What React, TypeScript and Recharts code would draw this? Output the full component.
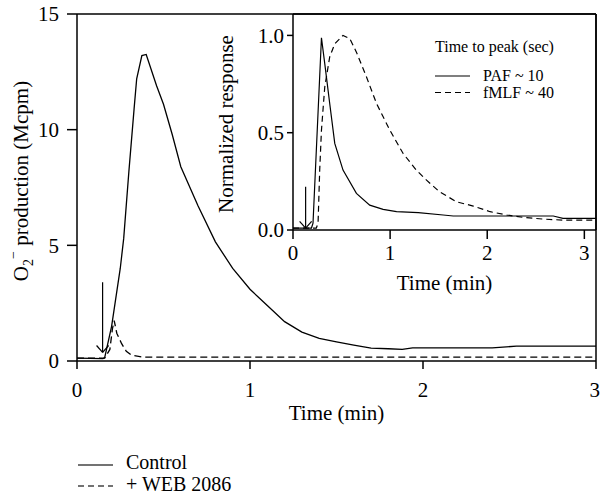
import { LineChart, Line, XAxis, YAxis, ReferenceLine } from "recharts";

const FONT = "'Liberation Serif', 'DejaVu Serif', 'Times New Roman', Times, serif";

// main panel: O2- production (Mcpm) vs time (min)
const controlTime = [0, 0.15, 0.16, 0.2, 0.25, 0.27, 0.3, 0.33, 0.345, 0.375, 0.4, 0.46, 0.5, 0.55, 0.6, 0.7, 0.8, 0.9, 1.0, 1.1, 1.2, 1.3, 1.4, 1.5, 1.6, 1.7, 1.8, 1.88, 1.94, 2.4, 2.54, 3.0];
const controlO2 = [0.12, 0.1, 0.15, 1.5, 4.0, 5.3, 8.2, 10.9, 12.2, 13.2, 13.25, 11.9, 11.1, 9.8, 8.4, 6.7, 5.15, 4.0, 3.1, 2.4, 1.7, 1.25, 0.98, 0.83, 0.69, 0.56, 0.53, 0.5, 0.57, 0.57, 0.64, 0.64];
const webTime = [0, 0.16, 0.19, 0.205, 0.215, 0.23, 0.258, 0.285, 0.315, 0.38, 3.0];
const webO2 = [0.12, 0.12, 0.5, 1.4, 1.75, 1.2, 0.75, 0.42, 0.25, 0.17, 0.17];
const mainXTicks = [0, 1, 2, 3];
const mainYTicks = [0, 5, 10, 15];

// inset: normalized response vs time (min)
const pafTime = [0, 0.19, 0.206, 0.293, 0.327, 0.378, 0.43, 0.515, 0.653, 0.79, 0.928, 1.066, 1.29, 1.546, 1.65, 2.68, 2.78, 3.12];
const pafResp = [0.01, 0.01, 0.035, 0.988, 0.855, 0.65, 0.445, 0.308, 0.188, 0.128, 0.106, 0.094, 0.089, 0.077, 0.072, 0.072, 0.06, 0.06];
const fmlfTime = [0, 0.24, 0.258, 0.275, 0.293, 0.327, 0.378, 0.43, 0.515, 0.585, 0.653, 0.757, 0.86, 0.997, 1.134, 1.27, 1.375, 1.51, 1.684, 1.856, 2.03, 2.2, 2.37, 2.577, 2.78, 3.12];
const fmlfResp = [0.01, 0.01, 0.034, 0.308, 0.513, 0.735, 0.889, 0.957, 1.0, 0.983, 0.914, 0.786, 0.65, 0.513, 0.393, 0.308, 0.256, 0.196, 0.145, 0.123, 0.094, 0.077, 0.065, 0.056, 0.051, 0.051];
const insetXTicks = [0, 1, 2, 3];
const insetYTicks = [0, 0.5, 1];

const toPoints = (t: number[], v: number[]) => t.map((x, i) => ({ t: x, v: v[i] }));

// stimulus arrow: vertical shaft plus two head strokes
const arrow = (x: number, top: number, tip: number, dx: number, dy: number) => [
  [{ x, y: top }, { x, y: tip }],
  [{ x: x - dx, y: tip + dy }, { x, y: tip }],
  [{ x: x + dx, y: tip + dy }, { x, y: tip }],
];

const axisStroke = { stroke: "#000", strokeWidth: 1.5 };
const tickText = { fill: "#000", fontSize: 21, style: { fontFamily: FONT } };
const labelStyle = { fill: "#000", fontSize: 21, style: { fontFamily: FONT } };

export default function App() {
  const control = toPoints(controlTime, controlO2);
  const web = toPoints(webTime, webO2);
  const paf = toPoints(pafTime, pafResp);
  const fmlf = toPoints(fmlfTime, fmlfResp);

  return (
    <div style={{ position: "absolute", left: 0, top: 0, width: 600, height: 494, background: "#fff", fontFamily: FONT }}>
      <div style={{ position: "absolute", left: 0, top: 0 }}>
        <LineChart width={600} height={440} margin={{ top: 14, right: 4, left: 0, bottom: 19 }}>
          <XAxis
            dataKey="t"
            type="number"
            domain={[0, 3]}
            ticks={mainXTicks}
            height={60}
            tickSize={8}
            tickMargin={13}
            axisLine={axisStroke}
            tickLine={axisStroke}
            tick={tickText}
            label={{ value: "Time (min)", position: "insideBottom", offset: 1, ...labelStyle }}
          />
          <YAxis
            dataKey="v"
            type="number"
            domain={[0, 15]}
            ticks={mainYTicks}
            width={77}
            tickSize={10}
            tickMargin={8}
            axisLine={axisStroke}
            tickLine={axisStroke}
            tick={tickText}
          />
          <ReferenceLine y={15} stroke="#000" strokeWidth={1.5} />
          <ReferenceLine x={3} stroke="#000" strokeWidth={1.5} />
          <Line data={control} dataKey="v" type="linear" stroke="#000" strokeWidth={1.3} dot={false} isAnimationActive={false} />
          <Line data={web} dataKey="v" type="linear" stroke="#000" strokeWidth={1.3} strokeDasharray="7 4" dot={false} isAnimationActive={false} />
          {arrow(0.148, 3.4, 0.37, 0.035, 0.3).map((s, i) => (
            <ReferenceLine key={`ma${i}`} segment={s} stroke="#000" strokeWidth={1.2} />
          ))}
        </LineChart>
      </div>

      <div style={{ position: "absolute", left: 200, top: 0 }}>
        <LineChart width={400} height={300} margin={{ top: 14, right: 4, left: 0, bottom: 10 }}>
          <XAxis
            dataKey="t"
            type="number"
            domain={[0, 3.12]}
            ticks={insetXTicks}
            height={60}
            tickSize={9}
            tickMargin={6}
            axisLine={axisStroke}
            tickLine={axisStroke}
            tick={tickText}
            label={{ value: "Time (min)", position: "insideBottom", offset: 0, ...labelStyle }}
          />
          <YAxis
            dataKey="v"
            type="number"
            domain={[0, 1.11]}
            ticks={insetYTicks}
            width={93}
            tickSize={6}
            tickMargin={3}
            tickFormatter={(v: number) => v.toFixed(1)}
            axisLine={axisStroke}
            tickLine={axisStroke}
            tick={tickText}
          />
          <ReferenceLine y={1.11} stroke="#000" strokeWidth={1.5} />
          <ReferenceLine x={3.12} stroke="#000" strokeWidth={1.5} />
          <Line data={paf} dataKey="v" type="linear" stroke="#000" strokeWidth={1.2} dot={false} isAnimationActive={false} />
          <Line data={fmlf} dataKey="v" type="linear" stroke="#000" strokeWidth={1.2} strokeDasharray="6 4" dot={false} isAnimationActive={false} />
          {arrow(0.13, 0.222, 0.01, 0.062, 0.034).map((s, i) => (
            <ReferenceLine key={`ia${i}`} segment={s} stroke="#000" strokeWidth={1.2} />
          ))}
        </LineChart>
      </div>

      <svg width={600} height={494} style={{ position: "absolute", left: 0, top: 0, pointerEvents: "none", fontFamily: FONT }} fill="#000">
        <text transform="translate(28,181) rotate(-90)" textAnchor="middle" fontSize={21}>
          O<tspan dy={5} fontSize={14}>2</tspan>
          <tspan dy={-15} fontSize={14}>−</tspan>
          <tspan dy={10}> production (Mcpm)</tspan>
        </text>
        <text transform="translate(233,124) rotate(-90)" textAnchor="middle" fontSize={21}>
          Normalized response
        </text>

        <text x={435} y={52} fontSize={16}>Time to peak (sec)</text>
        <line x1={435} x2={470} y1={76} y2={76} stroke="#000" strokeWidth={1.2} />
        <text x={483} y={81} fontSize={16}>PAF ~ 10</text>
        <line x1={435} x2={470} y1={92.5} y2={92.5} stroke="#000" strokeWidth={1.2} strokeDasharray="6 4" />
        <text x={483} y={98} fontSize={16}>fMLF ~ 40</text>

        <line x1={78} x2={113} y1={465} y2={465} stroke="#444" strokeWidth={1.3} />
        <text x={126} y={469} fontSize={20}>Control</text>
        <line x1={78} x2={113} y1={486} y2={486} stroke="#444" strokeWidth={1.3} strokeDasharray="6 4" />
        <text x={126} y={491} fontSize={20}>+ WEB 2086</text>
      </svg>
    </div>
  );
}
